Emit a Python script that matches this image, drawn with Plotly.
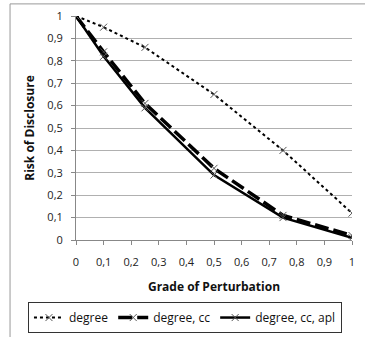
import plotly.graph_objects as go

# Grade of perturbation applied to the graph
grade = [0, 0.1, 0.25, 0.5, 0.75, 1]

# Risk of disclosure per attacker knowledge
risk_degree = [1, 0.95, 0.86, 0.65, 0.40, 0.12]
risk_degree_cc = [1, 0.84, 0.61, 0.32, 0.11, 0.02]
risk_degree_cc_apl = [1, 0.82, 0.59, 0.29, 0.10, 0.01]

tick_vals = [i / 10 for i in range(11)]
tick_text = ["0"] + ["0," + str(i) for i in range(1, 10)] + ["1"]

font_family = "Open Sans, Liberation Sans, sans-serif"

fig = go.Figure()

marker_style = dict(symbol="x-thin", size=7, line=dict(width=1, color="#555555"), color="#555555")

fig.add_trace(go.Scatter(
    x=grade, y=risk_degree, name="degree", mode="lines+markers",
    line=dict(color="black", width=2, dash="dot"), marker=marker_style,
))
fig.add_trace(go.Scatter(
    x=grade, y=risk_degree_cc, name="degree, cc", mode="lines+markers",
    line=dict(color="black", width=3.5, dash="14px,5px"), marker=marker_style,
))
fig.add_trace(go.Scatter(
    x=grade, y=risk_degree_cc_apl, name="degree, cc, apl", mode="lines+markers",
    line=dict(color="black", width=2.5), marker=marker_style,
))

axis_common = dict(
    range=[0, 1], tickvals=tick_vals, ticktext=tick_text,
    tickfont=dict(size=11, color="#222222", family=font_family),
    showline=True, linecolor="#888888", linewidth=1,
    ticks="outside", ticklen=4, tickcolor="#888888",
    zeroline=False,
)

fig.update_xaxes(
    **axis_common, showgrid=False, ticklabelstandoff=8,
    title=dict(text="<b>Grade of Perturbation</b>", font=dict(size=12, color="#111111", family=font_family), standoff=14),
)
fig.update_yaxes(
    **axis_common, showgrid=True, gridcolor="#b0b0b0", gridwidth=1, ticklabelstandoff=6,
    title=dict(text="<b>Risk of Disclosure</b>", font=dict(size=12, color="#111111", family=font_family), standoff=10),
)

# Outer chart frame
fig.add_shape(
    type="rect", xref="paper", yref="paper",
    x0=-0.239, x1=1.2, y0=-0.6, y1=1.054,
    line=dict(color="#999999", width=1), fillcolor="rgba(0,0,0,0)", layer="below",
)

fig.update_layout(
    width=365, height=337,
    margin=dict(l=76, r=13, t=16, b=97, autoexpand=False),
    paper_bgcolor="white", plot_bgcolor="white",
    font=dict(family=font_family, size=12, color="#111111"),
    showlegend=True,
    legend=dict(
        orientation="h", x=-0.174, y=-0.277, xanchor="left", yanchor="top",
        bordercolor="#333333", borderwidth=1, bgcolor="white",
        font=dict(size=12, family=font_family), itemwidth=30,
        tracegroupgap=0,
    ),
)

fig.write_html("out.html")
